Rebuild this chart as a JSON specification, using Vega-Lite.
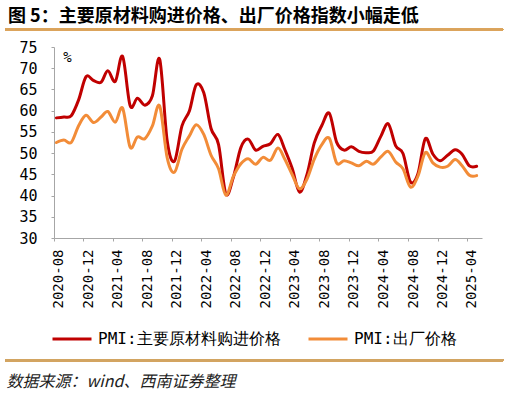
{
  "$schema": "https://vega.github.io/schema/vega-lite/v6.json",
  "width": 428,
  "height": 191,
  "autosize": "none",
  "padding": {"left": 54, "top": 47, "right": 26, "bottom": 155},
  "background": "white",
  "config": {"view": {"stroke": null}, "axis": {"labelOverlap": false, "labelBound": false, "labelFlush": false}},
  "title": {
    "text": "图 5：主要原材料购进价格、出厂价格指数小幅走低",
    "anchor": "start",
    "frame": "group",
    "dx": -46,
    "offset": 3,
    "font": "Noto Sans CJK SC",
    "fontSize": 18,
    "fontWeight": "bold",
    "color": "#000000"
  },
  "data": {
    "values": [
      {"date": "2020-08-01", "p": 58.3, "o": 52.5},
      {"date": "2020-09-01", "p": 58.5, "o": 53.1},
      {"date": "2020-10-01", "p": 58.8, "o": 52.5},
      {"date": "2020-11-01", "p": 62.6, "o": 56.5},
      {"date": "2020-12-01", "p": 68.0, "o": 58.9},
      {"date": "2021-01-01", "p": 67.1, "o": 57.2},
      {"date": "2021-02-01", "p": 66.7, "o": 58.5},
      {"date": "2021-03-01", "p": 69.4, "o": 59.8},
      {"date": "2021-04-01", "p": 66.9, "o": 57.3},
      {"date": "2021-05-01", "p": 72.8, "o": 60.6},
      {"date": "2021-06-01", "p": 61.2, "o": 51.4},
      {"date": "2021-07-01", "p": 62.9, "o": 53.8},
      {"date": "2021-08-01", "p": 61.3, "o": 53.4},
      {"date": "2021-09-01", "p": 63.5, "o": 56.4},
      {"date": "2021-10-01", "p": 72.1, "o": 61.1},
      {"date": "2021-11-01", "p": 52.9, "o": 48.9},
      {"date": "2021-12-01", "p": 48.1, "o": 45.5},
      {"date": "2022-01-01", "p": 56.4, "o": 50.9},
      {"date": "2022-02-01", "p": 60.0, "o": 54.1},
      {"date": "2022-03-01", "p": 66.1, "o": 56.7},
      {"date": "2022-04-01", "p": 64.2, "o": 54.4},
      {"date": "2022-05-01", "p": 55.8, "o": 49.5},
      {"date": "2022-06-01", "p": 52.0, "o": 46.3},
      {"date": "2022-07-01", "p": 40.4, "o": 40.1},
      {"date": "2022-08-01", "p": 44.3, "o": 44.5},
      {"date": "2022-09-01", "p": 51.3, "o": 47.5},
      {"date": "2022-10-01", "p": 53.3, "o": 48.7},
      {"date": "2022-11-01", "p": 50.7, "o": 47.4},
      {"date": "2022-12-01", "p": 51.6, "o": 49.0},
      {"date": "2023-01-01", "p": 52.2, "o": 48.3},
      {"date": "2023-02-01", "p": 54.4, "o": 51.2},
      {"date": "2023-03-01", "p": 50.9, "o": 48.6},
      {"date": "2023-04-01", "p": 46.4, "o": 44.9},
      {"date": "2023-05-01", "p": 40.8, "o": 41.6},
      {"date": "2023-06-01", "p": 45.0, "o": 43.9},
      {"date": "2023-07-01", "p": 52.4, "o": 48.6},
      {"date": "2023-08-01", "p": 56.5, "o": 52.0},
      {"date": "2023-09-01", "p": 59.4, "o": 53.5},
      {"date": "2023-10-01", "p": 52.6, "o": 47.7},
      {"date": "2023-11-01", "p": 50.7, "o": 48.2},
      {"date": "2023-12-01", "p": 51.5, "o": 47.7},
      {"date": "2024-01-01", "p": 50.4, "o": 47.0},
      {"date": "2024-02-01", "p": 50.1, "o": 48.1},
      {"date": "2024-03-01", "p": 50.5, "o": 47.4},
      {"date": "2024-04-01", "p": 54.0, "o": 49.1},
      {"date": "2024-05-01", "p": 56.9, "o": 50.4},
      {"date": "2024-06-01", "p": 51.7, "o": 47.9},
      {"date": "2024-07-01", "p": 49.9, "o": 46.3},
      {"date": "2024-08-01", "p": 43.2, "o": 42.0},
      {"date": "2024-09-01", "p": 45.2, "o": 44.6},
      {"date": "2024-10-01", "p": 53.4, "o": 50.1},
      {"date": "2024-11-01", "p": 49.8, "o": 47.7},
      {"date": "2024-12-01", "p": 48.2, "o": 46.7},
      {"date": "2025-01-01", "p": 49.5, "o": 46.9},
      {"date": "2025-02-01", "p": 50.8, "o": 48.5},
      {"date": "2025-03-01", "p": 49.8, "o": 47.1},
      {"date": "2025-04-01", "p": 47.0, "o": 44.8},
      {"date": "2025-05-01", "p": 46.9, "o": 44.7}
    ]
  },
  "layer": [
    {
      "mark": {"type": "rule", "color": "#D9A35C", "strokeWidth": 1.5, "clip": false},
      "encoding": {
        "x": {"datum": {"year": 2020, "month": 1, "date": 2, "utc": true}, "type": "temporal",
              "scale": {"type": "utc", "domain": [{"year": 2020, "month": 7, "date": 22, "utc": true}, {"year": 2025, "month": 5, "date": 23, "utc": true}], "nice": false}},
        "x2": {"datum": {"year": 2025, "month": 8, "date": 18, "utc": true}},
        "y": {"datum": 79.12, "type": "quantitative", "scale": {"domain": [30, 75], "nice": false, "zero": false}}
      }
    },
    {
      "mark": {"type": "rule", "color": "#D2A462", "strokeWidth": 2, "clip": false},
      "encoding": {
        "x": {"datum": {"year": 2020, "month": 1, "date": 2, "utc": true}, "type": "temporal"},
        "x2": {"datum": {"year": 2025, "month": 8, "date": 18, "utc": true}},
        "y": {"datum": 1.2, "type": "quantitative"}
      }
    },
    {
      "transform": [
        {"fold": ["p", "o"], "as": ["key", "value"]},
        {"lookup": "key", "from": {"data": {"values": [
          {"key": "p", "series": "PMI:主要原材料购进价格"},
          {"key": "o", "series": "PMI:出厂价格"}
        ]}, "key": "key", "fields": ["series"]}}
      ],
      "mark": {"type": "line", "interpolate": "cardinal", "strokeWidth": 3, "strokeCap": "round", "strokeJoin": "round"},
      "encoding": {
        "x": {
          "field": "date",
          "type": "temporal",
          "scale": {
            "type": "utc",
            "domain": [
              {"year": 2020, "month": 7, "date": 22, "utc": true},
              {"year": 2025, "month": 5, "date": 23, "utc": true}
            ],
            "nice": false
          },
          "axis": {
            "values": [
              {"year": 2020, "month": 8, "date": 1, "utc": true},
              {"year": 2020, "month": 12, "date": 1, "utc": true},
              {"year": 2021, "month": 4, "date": 1, "utc": true},
              {"year": 2021, "month": 8, "date": 1, "utc": true},
              {"year": 2021, "month": 12, "date": 1, "utc": true},
              {"year": 2022, "month": 4, "date": 1, "utc": true},
              {"year": 2022, "month": 8, "date": 1, "utc": true},
              {"year": 2022, "month": 12, "date": 1, "utc": true},
              {"year": 2023, "month": 4, "date": 1, "utc": true},
              {"year": 2023, "month": 8, "date": 1, "utc": true},
              {"year": 2023, "month": 12, "date": 1, "utc": true},
              {"year": 2024, "month": 4, "date": 1, "utc": true},
              {"year": 2024, "month": 8, "date": 1, "utc": true},
              {"year": 2024, "month": 12, "date": 1, "utc": true},
              {"year": 2025, "month": 4, "date": 1, "utc": true}
            ],
            "tickCount": 100,
            "format": "%Y-%m",
            "labelAngle": -90,
            "labelFont": "DejaVu Sans Mono",
            "labelFontSize": 14,
            "labelColor": "#000000",
            "labelPadding": 8,
            "labelOffset": 5,
            "labelOverlap": false,
            "tickOffset": -2.5,
            "tickSize": 3,
            "tickColor": "#A6A6A6",
            "domainColor": "#A6A6A6",
            "grid": false,
            "title": "数据来源：wind、西南证券整理",
            "titleX": -48,
            "titleY": 148,
            "titleAlign": "left",
            "titleAnchor": "start",
            "titleBaseline": "alphabetic",
            "titleAngle": 0,
            "titleFont": "Noto Sans CJK SC",
            "titleFontSize": 16,
            "titleFontStyle": "italic",
            "titleFontWeight": "normal",
            "titleColor": "#222222"
          }
        },
        "y": {
          "field": "value",
          "type": "quantitative",
          "scale": {"domain": [30, 75], "nice": false, "zero": false},
          "axis": {
            "values": [30, 35, 40, 45, 50, 55, 60, 65, 70, 75],
            "tickCount": 100,
            "format": "d",
            "labelFont": "DejaVu Sans Mono",
            "labelFontSize": 15,
            "labelColor": "#000000",
            "labelPadding": 14,
            "labelOverlap": false,
            "tickSize": 3,
            "tickColor": "#A6A6A6",
            "domainColor": "#A6A6A6",
            "grid": false,
            "title": "%",
            "titleAngle": 0,
            "titleX": 13,
            "titleY": 10,
            "titleAlign": "center",
            "titleBaseline": "middle",
            "titleFont": "DejaVu Sans Mono",
            "titleFontSize": 14,
            "titleFontWeight": "normal",
            "titleColor": "#000000"
          }
        },
        "color": {
          "field": "series",
          "type": "nominal",
          "scale": {
            "domain": ["PMI:主要原材料购进价格", "PMI:出厂价格"],
            "range": ["#C00000", "#F28C38"]
          },
          "legend": {
            "orient": "none",
            "legendX": -3,
            "legendY": 271,
            "direction": "horizontal",
            "columns": 2,
            "title": null,
            "symbolType": "stroke",
            "symbolSize": 1521,
            "symbolStrokeWidth": 3,
            "labelFont": "DejaVu Sans Mono",
            "labelFontSize": 16,
            "labelColor": "#000000",
            "labelLimit": 0,
            "labelOffset": 5,
            "columnPadding": 21
          }
        },
        "order": {"field": "key", "type": "nominal", "sort": "descending"}
      }
    }
  ]
}
